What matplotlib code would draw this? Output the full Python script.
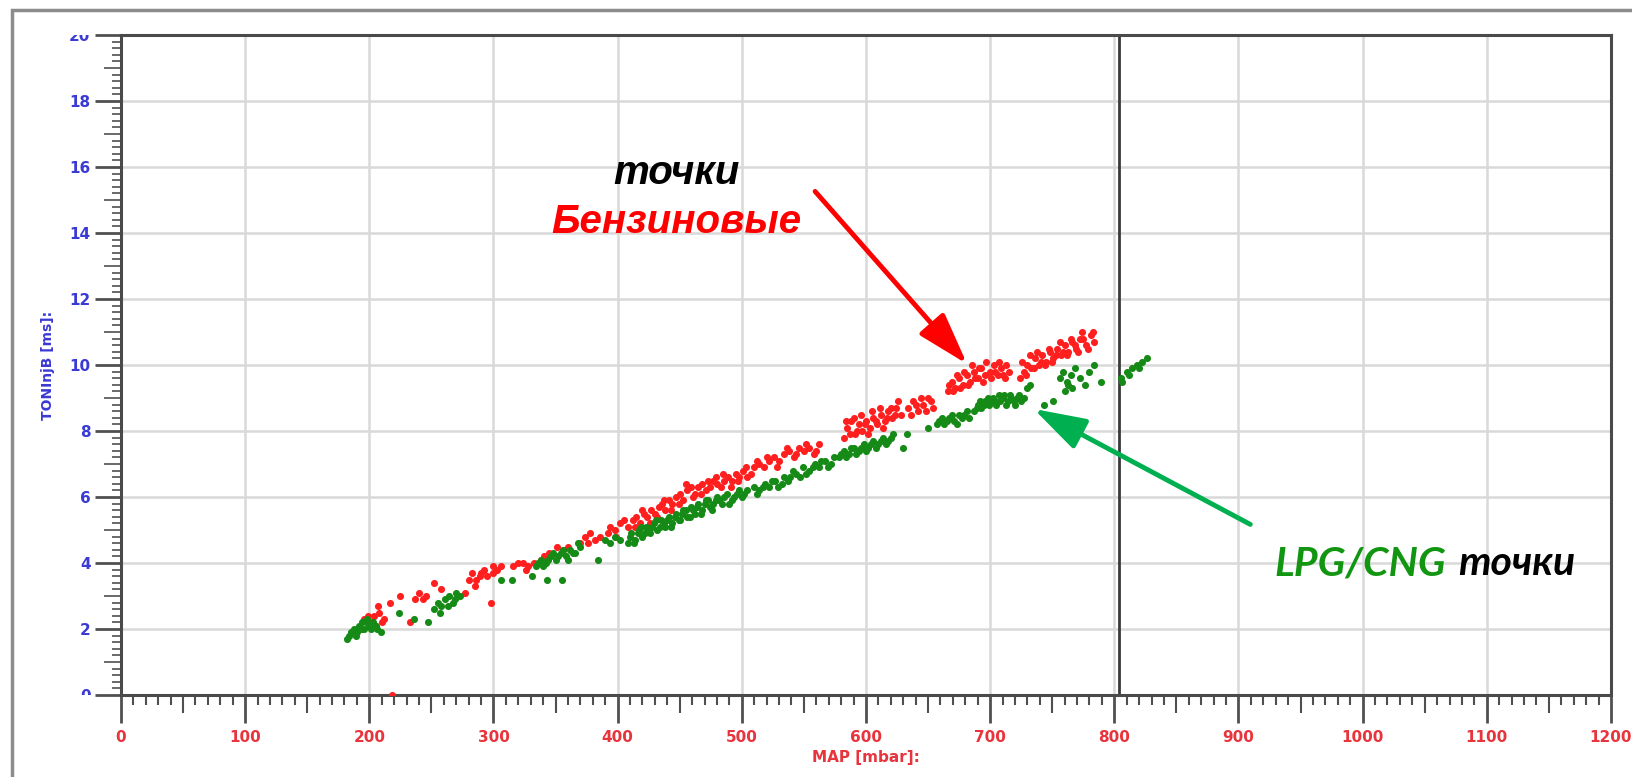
import matplotlib.pyplot as plt
import numpy as np
from matplotlib.patches import Rectangle
from matplotlib.transforms import Bbox, TransformedBbox

# petrol (benzine) injection points: MAP [mbar], injection time [ms]
petrol_map = [193, 196, 199, 202, 205, 208, 207, 212, 217, 225, 233, 237, 240, 243, 246, 252, 258,
              277, 280, 283, 286, 289, 292, 295, 298, 300, 303, 306,
              316, 320, 324, 328, 333, 341, 345, 351, 356, 370, 374, 378, 382, 386, 392, 398, 402, 405, 408,
              412, 415, 418, 421, 424, 427, 430, 433, 436, 438, 441, 444, 447, 450, 453, 456, 459, 462,
              465, 468, 471, 474, 477, 480, 483, 486, 489, 492, 495, 498, 501, 504,
              510, 514, 518, 522, 526, 530, 534, 538, 542, 546, 550, 554, 558, 562,
              582, 585, 588, 591, 594, 597, 600, 603, 606, 609, 612, 615, 618, 621, 624, 628,
              634, 638, 642, 646, 650, 654,
              666, 669, 672, 675, 678, 681, 684, 687, 690, 693, 696, 700, 703, 706, 709, 712, 715,
              724, 727, 730, 733, 736, 739, 742, 745, 748, 751, 754, 757, 760, 763, 766, 769, 772, 774,
              777, 781, 784, 218,
              414, 420, 426, 432, 437, 443, 449, 455, 461, 467, 473, 479, 485, 491, 497, 503, 507,
              512, 520, 528, 536, 544, 552, 560,
              584, 587, 590, 593, 596, 599, 602, 605, 608, 611, 614, 617, 620, 623, 626,
              636, 640, 644, 648, 652,
              667, 670, 673, 676, 679, 682, 685, 688, 691, 694, 697, 701, 704, 707, 710, 713,
              726, 729, 732, 735, 738, 741, 744, 747, 750, 753, 756, 759, 762, 765, 768, 771, 775, 779, 783,
              200, 204, 210, 285, 290, 300, 326, 338, 360, 376, 394, 399]
petrol_ton = [2.0, 2.3, 2.4, 2.2, 2.1, 2.5, 2.7, 2.3, 2.8, 3.0, 2.2, 2.9, 3.1, 2.9, 3.0, 3.4, 3.2,
              3.1, 3.5, 3.7, 3.5, 3.6, 3.8, 3.6, 2.8, 3.7, 3.8, 3.9,
              3.9, 4.0, 4.0, 3.9, 4.0, 4.2, 4.3, 4.5, 4.4, 4.6, 4.8, 4.9, 4.7, 4.8, 4.9, 5.0, 5.2, 5.3, 5.1,
              5.3, 5.4, 5.2, 5.5, 5.4, 5.6, 5.5, 5.7, 5.8, 5.6, 5.9, 5.8, 6.0, 6.1, 5.9, 6.2, 6.3, 6.1,
              6.3, 6.4, 6.2, 6.3, 6.5, 6.4, 6.3, 6.5, 6.6, 6.5, 6.7, 6.6, 6.8, 6.6,
              6.9, 7.0, 6.9, 7.1, 7.2, 7.1, 7.3, 7.4, 7.2, 7.5, 7.4, 7.5, 7.3, 7.6,
              7.8, 8.1, 8.3, 7.9, 8.2, 8.0, 8.3, 8.1, 8.4, 8.2, 8.5, 8.3, 8.6, 8.4, 8.7, 8.5,
              8.7, 8.9, 8.6, 8.8, 9.0, 8.7,
              9.2, 9.5, 9.3, 9.6, 9.4, 9.7, 9.5, 9.8, 9.6, 9.9, 9.7, 9.8, 10.0, 9.7, 9.9, 9.6, 9.8,
              9.6, 9.8, 10.0, 9.9, 10.2, 10.0, 10.3, 10.1, 10.4, 10.2, 10.5, 10.3, 10.6, 10.4, 10.7, 10.5,
              10.8, 11.0, 10.6, 10.9, 10.7, 0.0,
              5.1, 5.6, 5.2, 5.4, 5.9, 5.6, 5.8, 6.4, 6.0, 6.1, 6.5, 6.6, 6.7, 6.3, 6.5, 6.9, 6.7,
              7.1, 7.2, 6.9, 7.5, 7.3, 7.6, 7.4,
              8.3, 7.9, 8.4, 8.0, 8.5, 8.2, 7.9, 8.6, 8.3, 8.7, 8.1, 8.4, 8.7, 8.5, 8.9,
              8.5, 8.8, 9.0, 8.6, 8.9,
              9.4, 9.2, 9.7, 9.3, 9.8, 9.4, 10.0, 9.6, 9.9, 9.5, 10.1, 9.6, 9.8, 10.1, 9.7, 10.0,
              10.1, 9.7, 10.3, 9.9, 10.4, 10.1, 10.0, 10.5, 10.1, 10.3, 10.7, 10.4, 10.3, 10.8, 10.6, 10.4,
              10.8, 10.5, 11.0,
              2.1, 2.4, 2.2, 3.3, 3.7, 3.9, 3.8, 4.1, 4.5, 4.6, 5.1, 4.8]

# LPG/CNG injection points
gas_map = [182, 184, 186, 188, 190, 192, 194, 196, 198, 200, 203, 206, 209,
           224, 236, 247, 252, 255, 258, 261, 264, 267, 270, 273,
           306, 315, 331, 343, 355, 334, 338, 342, 346, 350, 354, 358, 362, 366, 370,
           384, 390, 394, 398, 402,
           408, 411, 414, 417, 420, 423, 426, 429, 432, 435, 438, 441, 444, 447, 450, 453, 456,
           459, 462, 465, 468, 471, 474, 477, 480, 484, 488, 492, 496, 500, 504,
           510, 514, 519, 524, 529, 534, 539, 544, 549, 554, 559, 564, 569, 574,
           578, 582, 586, 590, 594, 598, 602, 606, 610, 614, 618, 622, 630, 633, 650,
           657, 661, 665, 669, 673, 677, 681, 687, 690, 693, 696, 699, 702, 705, 708, 711, 714,
           717, 720, 723, 727,
           730, 732, 743, 751, 756, 759, 762, 765, 768, 772, 776, 780, 784, 789,
           805, 810, 814, 818, 822, 826,
           185, 189, 193, 197, 201, 205, 257, 263, 269, 336, 340, 344, 348, 352, 356, 360, 364, 368,
           410, 413, 416, 419, 422, 425, 428, 431, 434, 437, 440, 443, 446, 449, 452, 455, 458,
           461, 464, 467, 470, 473, 476, 479, 482, 486, 490, 494, 498, 502,
           512, 517, 522, 527, 532, 537, 541, 547, 552, 557, 562, 567, 572,
           580, 584, 588, 592, 596, 600, 604, 608, 612, 616, 620,
           659, 663, 667, 671, 675, 679, 683, 689, 692, 695, 698, 701, 704, 707, 710, 713, 716,
           719, 722, 725,
           760, 763, 766, 806, 812, 820]
gas_ton = [1.7, 1.8, 1.9, 2.0, 1.9, 2.1, 2.2, 2.0, 2.3, 2.1, 2.2, 2.0, 1.9,
           2.5, 2.3, 2.2, 2.6, 2.8, 2.7, 2.9, 3.0, 2.8, 3.1, 3.0,
           3.5, 3.5, 3.6, 3.5, 3.5, 3.9, 4.1, 4.0, 4.2, 4.1, 4.3, 4.2, 4.4, 4.3, 4.5,
           4.1, 4.7, 4.6, 4.8, 4.7,
           4.6, 4.9, 4.7, 5.0, 4.8, 5.1, 4.9, 5.2, 5.0, 5.3, 5.1, 5.4, 5.2, 5.5, 5.3, 5.6, 5.4,
           5.7, 5.5, 5.8, 5.6, 5.9, 5.7, 5.8, 6.0, 5.8, 6.1, 5.9, 6.1, 6.0, 6.2,
           6.3, 6.2, 6.4, 6.5, 6.3, 6.6, 6.6, 6.7, 6.9, 6.8, 7.0, 7.1, 6.9, 7.2,
           7.2, 7.4, 7.3, 7.5, 7.4, 7.6, 7.5, 7.7, 7.6, 7.8, 7.7, 7.9, 7.5, 7.9, 8.1,
           8.2, 8.4, 8.3, 8.5, 8.2, 8.4, 8.6, 8.6, 8.8, 8.7, 8.9, 8.8, 9.0, 8.8, 8.9, 9.1, 8.9,
           9.0, 8.8, 9.1, 9.0,
           9.3, 9.4, 8.8, 8.9, 9.6, 9.8, 9.5, 9.7, 9.9, 9.6, 9.4, 9.8, 10.0, 9.5,
           9.6, 9.8, 9.9, 10.0, 10.1, 10.2,
           1.9, 1.8, 2.0, 2.2, 2.0, 2.1, 2.5, 2.7, 2.9, 4.0, 3.9, 4.1, 4.3, 4.2, 4.4, 4.1, 4.3, 4.6,
           4.8, 4.6, 4.9, 5.1, 4.9, 5.0, 5.1, 5.3, 5.1, 5.2, 5.3, 5.1, 5.4, 5.3, 5.5, 5.6, 5.4,
           5.6, 5.7, 5.5, 5.8, 5.9, 5.6, 5.9, 5.9, 6.0, 5.8, 6.0, 6.2, 6.1,
           6.1, 6.3, 6.3, 6.5, 6.4, 6.5, 6.8, 6.6, 6.7, 6.9, 6.9, 7.1, 7.0,
           7.3, 7.2, 7.5, 7.3, 7.5, 7.4, 7.6, 7.5, 7.7, 7.6, 7.8,
           8.3, 8.2, 8.4, 8.3, 8.5, 8.5, 8.4, 8.7, 8.9, 8.8, 9.0, 8.9, 8.9, 9.1, 9.0, 8.8, 9.1,
           8.9, 9.0, 8.9,
           9.2, 9.4, 9.3, 9.5, 9.7, 9.9]

x_ticks = [0, 100, 200, 300, 400, 500, 600, 700, 800, 900, 1000, 1100, 1200]
y_ticks = [0, 2, 4, 6, 8, 10, 12, 14, 16, 18, 20]
marker_x = 804

W, H = 1633, 777
fig = plt.figure(figsize=(W / 100, H / 100), dpi=100)
ax = fig.add_axes([121 / W, 1 - 695 / H, (1611 - 121) / W, (695 - 35) / H])

# outer grey frame (runs off the right / bottom edge)
fig.add_artist(Rectangle((12 / W, -0.05), 1.1, 1 - 10 / H + 0.05, transform=fig.transFigure,
                         fill=False, ec='#8c8c8c', lw=2.5))

ax.scatter(petrol_map, petrol_ton, s=26, color='#ff1f1f', linewidths=0, zorder=3)
ax.scatter(gas_map, gas_ton, s=26, color='#168a16', linewidths=0, zorder=3)
ax.axvline(marker_x, color='#3a3a3a', lw=2.0, zorder=2)

ax.set_xlim(0, 1200)
ax.set_ylim(0, 20)
ax.set_xticks(x_ticks)
ax.set_yticks(y_ticks)
ax.set_xticks(np.arange(0, 1201, 10), minor=True)
ax.set_yticks(np.arange(0, 20.01, 0.2), minor=True)
ax.set_xticklabels([str(v) for v in x_ticks])
ax.set_yticklabels([str(v) for v in y_ticks])

ax.set_axisbelow(True)
ax.grid(True, which='major', color='#d9d9d9', lw=1.8)
for s in ax.spines.values():
    s.set_color('#4a4a4a')
    s.set_linewidth(2.2)

ax.tick_params(axis='x', which='major', length=20, width=2, color='#505050', pad=5,
               labelsize=11, labelcolor='#e8343c')
ax.tick_params(axis='y', which='major', length=19, width=2, color='#505050', pad=3,
               labelsize=11, labelcolor='#3a3ad4')
ax.tick_params(axis='x', which='minor', length=7, width=1.5, color='#505050')
ax.tick_params(axis='y', which='minor', length=6.5, width=1.2, color='#505050')
for lbl in ax.get_xticklabels() + ax.get_yticklabels():
    lbl.set_fontweight('bold')

# medium ticks at every 50 mbar and every odd ms
xm = ax.xaxis.get_minorticklocs()
for t, loc in zip(ax.xaxis.get_minor_ticks(len(xm)), xm):
    if round(loc) % 50 == 0:
        t.tick1line.set_markersize(13)
ym = ax.yaxis.get_minorticklocs()
for t, loc in zip(ax.yaxis.get_minor_ticks(len(ym)), ym):
    if abs(loc - round(loc)) < 1e-6 and round(loc) % 2 == 1:
        t.tick1line.set_markersize(12)

ax.set_xlabel('MAP [mbar]:', fontsize=11, fontweight='bold', color='#e8343c', labelpad=4)
ax.set_ylabel('TONInjB [ms]:', fontsize=10, fontweight='bold', color='#3a3ad4', labelpad=10)

ann_font = ['Liberation Sans', 'DejaVu Sans']
ax.text(447.5, 15.49, 'точки', fontsize=29, fontweight='bold', style='italic',
        family=ann_font, color='black', ha='center', va='baseline')
ax.text(447.5, 14.0, 'Бензиновые', fontsize=29, fontweight='bold', style='italic',
        family=ann_font, color='#ff0000', ha='center', va='baseline')

gas_font = ['Lato', 'DejaVu Sans']
ax.text(1067, 3.63, 'LPG/CNG', fontsize=29.5, fontweight='bold', style='italic',
        family=gas_font, color='#129612', ha='right', va='baseline', clip_on=False)
ax.text(1077, 3.63, 'точки', fontsize=29.5, fontweight='bold', style='italic',
        family=gas_font, color='black', ha='left', va='baseline', clip_on=False)

ax.annotate('', xy=(681.4, 10.03), xytext=(559, 15.26),
            arrowprops=dict(arrowstyle='-|>,head_length=1.6,head_width=0.5', color='#ff0000',
                            lw=3.5, mutation_scale=20, shrinkA=0, shrinkB=0))
ax.annotate('', xy=(735, 8.67), xytext=(909.5, 5.17),
            arrowprops=dict(arrowstyle='-|>,head_length=1.6,head_width=0.5', color='#00b050',
                            lw=3.5, mutation_scale=20, shrinkA=0, shrinkB=0))

fig.canvas.draw()
clip = TransformedBbox(Bbox([[-1, 0], [1, 1]]), ax.transAxes)
for lbl in ax.get_yticklabels():
    lbl.set_clip_box(clip)
    lbl.set_clip_on(True)

fig.savefig('out.png', dpi=100)
